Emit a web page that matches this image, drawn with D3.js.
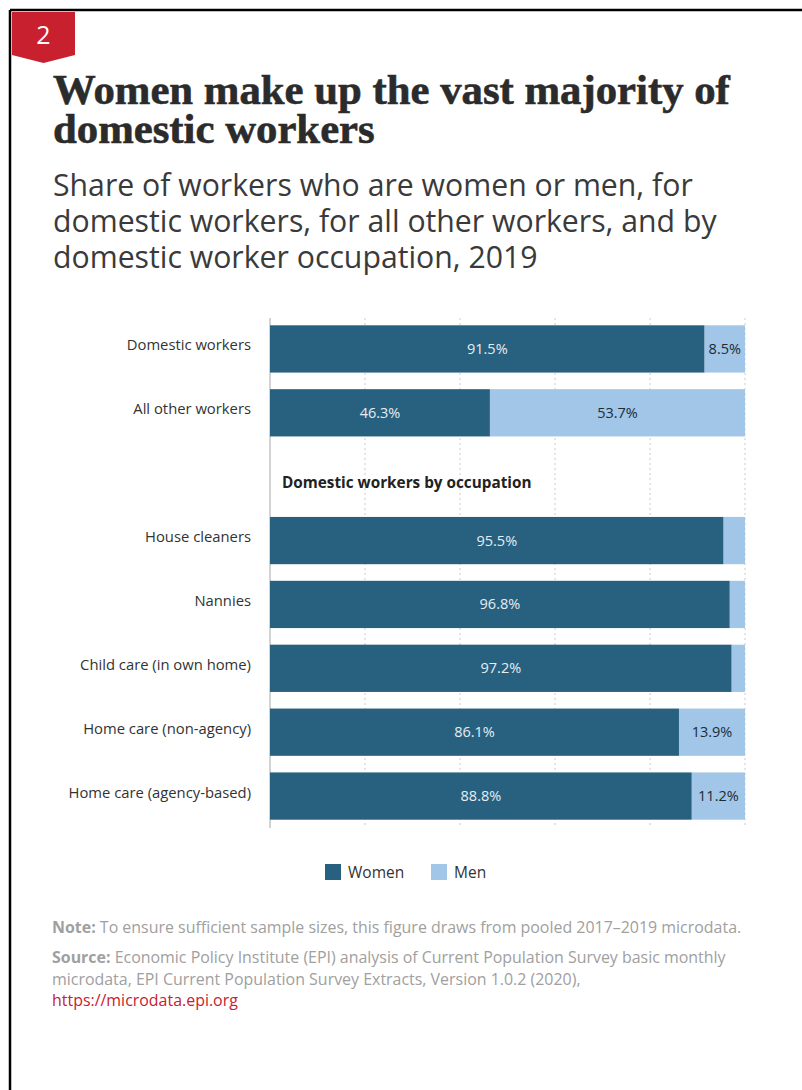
<!DOCTYPE html>
<html>
<head>
<meta charset="utf-8">
<script src="https://cdn.jsdelivr.net/npm/d3@7"></script>
<style>
  html, body { margin: 0; padding: 0; background: #fff; }
  svg { display: block; }
</style>
</head>
<body>
<svg id="chart" width="802" height="1090"></svg>
<script>
// Rows of the chart (an empty slot holds the section heading)
const categories = [
  "Domestic workers",
  "All other workers",
  "",
  "House cleaners",
  "Nannies",
  "Child care (in own home)",
  "Home care (non-agency)",
  "Home care (agency-based)"
];
const womenShare = [91.5, 46.3, null, 95.5, 96.8, 97.2, 86.1, 88.8];
const menShare   = [8.5, 53.7, null, 4.5, 3.2, 2.8, 13.9, 11.2];
// Men's shares that carry a printed label
const menLabelled = [true, true, false, false, false, false, true, true];
const gridTicks = [0, 20, 40, 60, 80, 100];
const seriesNames = ["Women", "Men"];
const sectionHeading = "Domestic workers by occupation";

const colors = { Women: "#27617f", Men: "#a1c6e7" };
const sans = "'Open Sans', Lato, sans-serif";
const serif = "'Liberation Serif', 'DejaVu Serif', serif";
const svg = d3.select("#chart");

// Page frame: top and left rules
svg.append("line").attr("x1", 10).attr("x2", 802).attr("y1", 10).attr("y2", 10)
  .attr("stroke", "#000").attr("stroke-width", 2.5);
svg.append("line").attr("x1", 10).attr("x2", 10).attr("y1", 10).attr("y2", 1090)
  .attr("stroke", "#000").attr("stroke-width", 2.5);

// Figure number tag
svg.append("path")
  .attr("d", "M12,12 H75 V55 L43.5,63 L12,55 Z")
  .attr("fill", "#c8202f");
svg.append("text").attr("x", 43.5).attr("y", 44)
  .attr("text-anchor", "middle")
  .attr("font-family", sans)
  .attr("font-size", 25).attr("fill", "#fff").text("2");

// Scale a text element's font size so its width equals a target
function fitWidth(sel, target) {
  const node = sel.node();
  const fs = parseFloat(sel.attr("font-size"));
  const w = node.getComputedTextLength();
  if (w > 0) sel.attr("font-size", fs * target / w);
  return sel.attr("font-size");
}

// Title (a thin stroke gives the heavier display weight)
const titleLines = ["Women make up the vast majority of", "domestic workers"];
const t1 = svg.append("text").attr("x", 53).attr("y", 104)
  .attr("font-family", serif)
  .attr("font-weight", "bold").attr("font-size", 40).attr("fill", "#2b2b2b")
  .attr("stroke", "#2b2b2b").attr("stroke-width", 0.6)
  .text(titleLines[0]);
const tfs = fitWidth(t1, 677);
svg.append("text").attr("x", 53).attr("y", 143)
  .attr("font-family", serif)
  .attr("font-weight", "bold").attr("font-size", tfs).attr("fill", "#2b2b2b")
  .attr("stroke", "#2b2b2b").attr("stroke-width", 0.6)
  .text(titleLines[1]);

// Subtitle
const subLines = [
  "Share of workers who are women or men, for",
  "domestic workers, for all other workers, and by",
  "domestic worker occupation, 2019"
];
const s0 = svg.append("text").attr("x", 53).attr("y", 196)
  .attr("font-family", sans)
  .attr("font-size", 27).attr("fill", "#3a3a3a").text(subLines[0]);
const sfs = fitWidth(s0, 640);
subLines.slice(1).forEach((l, i) => {
  svg.append("text").attr("x", 53).attr("y", 232 + i * 36)
    .attr("font-family", sans)
    .attr("font-size", sfs).attr("fill", "#3a3a3a").text(l);
});

// Scales
const x = d3.scaleLinear().domain([0, 100]).range([270, 745]);
const y = d3.scaleBand().domain(d3.range(categories.length))
  .range([317, 828]).paddingInner(0.26).paddingOuter(0.13);

const plot = svg.append("g");

// Dotted vertical gridlines
plot.append("g").selectAll("line").data(gridTicks.slice(1)).join("line")
  .attr("x1", d => x(d)).attr("x2", d => x(d))
  .attr("y1", 318).attr("y2", 828)
  .attr("stroke", "#d4d4d4").attr("stroke-width", 1.2)
  .attr("stroke-dasharray", "2,3");

// Baseline
plot.append("line").attr("x1", x(0)).attr("x2", x(0))
  .attr("y1", 318).attr("y2", 828)
  .attr("stroke", "#c4c4c4").attr("stroke-width", 1.5);

const rows = d3.range(categories.length).filter(i => womenShare[i] !== null);

// Women segments
plot.append("g").selectAll("rect").data(rows).join("rect")
  .attr("x", x(0)).attr("y", i => y(i))
  .attr("width", i => x(womenShare[i]) - x(0))
  .attr("height", y.bandwidth())
  .attr("fill", colors.Women);

// Men segments
plot.append("g").selectAll("rect").data(rows).join("rect")
  .attr("x", i => x(womenShare[i])).attr("y", i => y(i))
  .attr("width", i => x(womenShare[i] + menShare[i]) - x(womenShare[i]))
  .attr("height", y.bandwidth())
  .attr("fill", colors.Men);

const fmt = v => v.toFixed(1) + "%";

// Women value labels
plot.append("g").selectAll("text").data(rows).join("text")
  .attr("x", i => (x(0) + x(womenShare[i])) / 2)
  .attr("y", i => y(i) + y.bandwidth() / 2 + 5)
  .attr("text-anchor", "middle")
  .attr("font-family", sans).attr("font-size", 14.5)
  .attr("fill", "#e6edf2")
  .text(i => fmt(womenShare[i]));

// Men value labels
plot.append("g").selectAll("text").data(rows.filter(i => menLabelled[i])).join("text")
  .attr("x", i => (x(womenShare[i]) + x(womenShare[i] + menShare[i])) / 2)
  .attr("y", i => y(i) + y.bandwidth() / 2 + 5)
  .attr("text-anchor", "middle")
  .attr("font-family", sans).attr("font-size", 14.5)
  .attr("fill", "#1d2b38")
  .text(i => fmt(menShare[i]));

// Category labels
svg.append("g").selectAll("text").data(rows).join("text")
  .attr("x", 251)
  .attr("y", i => y(i) + y.bandwidth() / 2 + 1.5)
  .attr("text-anchor", "end")
  .attr("font-family", sans).attr("font-size", 14.8)
  .attr("fill", "#333")
  .text(i => categories[i]);

// Section heading
svg.append("text").attr("x", 282).attr("y", 488)
  .attr("font-family", sans).attr("font-weight", "bold")
  .attr("font-size", 15.3).attr("fill", "#222")
  .text(sectionHeading);

// Legend
const legendX = [325, 431];
const legend = svg.append("g").selectAll("g").data(seriesNames).join("g")
  .attr("transform", (d, i) => `translate(${legendX[i]},864)`);
legend.append("rect").attr("width", 16).attr("height", 16)
  .attr("fill", d => colors[d]);
legend.append("text").attr("x", 23).attr("y", 14)
  .attr("font-family", sans).attr("font-size", 15.5).attr("fill", "#333")
  .text(d => d);

// Notes and source
function noteLine(yPos, parts, target) {
  const t = svg.append("text").attr("x", 52).attr("y", yPos)
    .attr("font-family", sans).attr("font-size", 14).attr("fill", "#a0a0a0");
  parts.forEach(p => {
    const s = t.append("tspan").text(p.text);
    if (p.bold) s.attr("font-weight", "bold");
    if (p.fill) s.attr("fill", p.fill);
  });
  if (target) fitWidth(t, target);
  return t;
}
const n0 = noteLine(933, [{ text: "Note:", bold: true }, { text: " To ensure sufficient sample sizes, this figure draws from pooled 2017\u20132019 microdata." }], 690);
const nfs = n0.attr("font-size");
noteLine(963, [{ text: "Source:", bold: true }, { text: " Economic Policy Institute (EPI) analysis of Current Population Survey basic monthly" }]).attr("font-size", nfs);
noteLine(985, [{ text: "microdata, EPI Current Population Survey Extracts, Version 1.0.2 (2020)," }]).attr("font-size", nfs);
noteLine(1006, [{ text: "https://microdata.epi.org", fill: "#c8202f" }]).attr("font-size", nfs);
</script>
</body>
</html>
